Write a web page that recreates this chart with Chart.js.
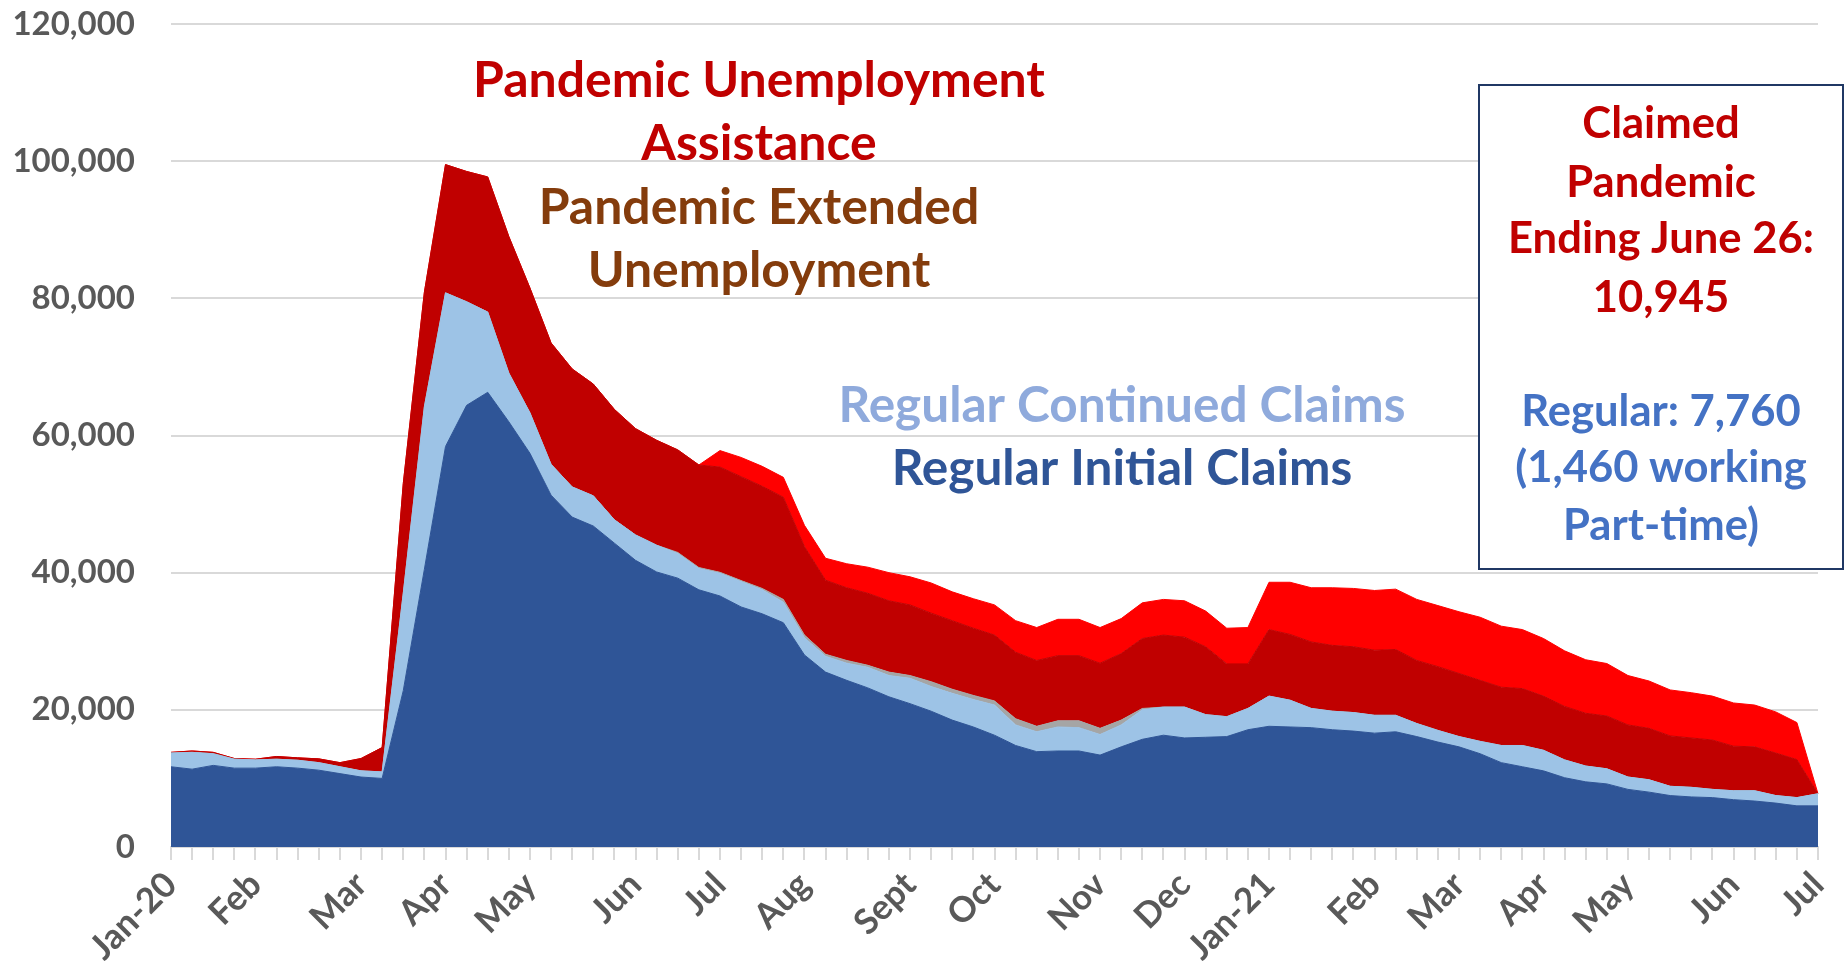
<!DOCTYPE html>
<html>
<head>
<meta charset="utf-8">
<script src="https://cdn.jsdelivr.net/npm/chart.js@4.4.0/dist/chart.umd.min.js"></script>
<style>
  body { margin: 0; background: #fff; }
  canvas { display: block; }
</style>
</head>
<body>
<canvas id="claims-chart" width="1845" height="967"></canvas>
<script>
// weekly claims, week ending Jan 4 2020 .. Jul 3 2021
const monthNames = ["Jan-20", "Feb", "Mar", "Apr", "May", "Jun", "Jul", "Aug", "Sept", "Oct", "Nov", "Dec",
  "Jan-21", "Feb", "Mar", "Apr", "May", "Jun", "Jul"];
const monthWeeks = [0, 4, 9, 13, 17, 22, 26, 30, 35, 39, 44, 48, 52, 57, 61, 65, 69, 74, 78];
const weekCount = 79;

const initialClaims = [11700, 11350, 11900, 11500, 11500, 11700, 11500, 11200, 10700, 10200, 10000,
  22800, 40500, 58400, 64400, 66300, 62000, 57400, 51300, 48100, 46800,
  44300, 41800, 40100, 39200, 37500, 36600, 35000, 34000, 32700, 28000,
  25500, 24300, 23200, 21900, 20900, 19800, 18500, 17500, 16300, 14800,
  13900, 14000, 14000, 13400, 14600, 15700, 16300, 15900, 16000, 16100,
  17100, 17600, 17500, 17400, 17100, 16900, 16600, 16800, 16100, 15300,
  14600, 13600, 12300, 11700, 11100, 10100, 9500, 9200, 8400, 8000,
  7500, 7300, 7200, 6900, 6700, 6400, 6000, 6000];

const continuedClaims = [2000, 2450, 1700, 1300, 1200, 1100, 1150, 1100, 1000, 900, 950,
  14200, 23700, 22400, 15100, 11700, 7100, 5900, 4500, 4400, 4400,
  3400, 3700, 3900, 3600, 3100, 3300, 3700, 3500, 3000, 2500,
  2300, 2500, 3000, 3100, 3700, 3600, 3900, 4000, 4400, 3000,
  2900, 3500, 3400, 3000, 3200, 4300, 4100, 4500, 3300, 2900,
  3100, 4400, 3900, 2800, 2700, 2700, 2600, 2400, 1900, 1700,
  1500, 1800, 2500, 3100, 3000, 2600, 2300, 2200, 1800, 1800,
  1350, 1400, 1200, 1300, 1500, 1100, 1200, 1760];

const extendedBenefits = [0, 0, 0, 0, 0, 0, 0, 0, 0, 0, 0,
  0, 0, 0, 0, 0, 0, 0, 0, 0, 0,
  0, 0, 0, 150, 150, 150, 150, 200, 400, 400,
  300, 400, 300, 500, 400, 700, 600, 600, 600, 900,
  800, 900, 1000, 900, 700, 200, 0, 0, 0, 0,
  0, 0, 0, 0, 0, 0, 0, 0, 0, 0,
  0, 0, 0, 0, 0, 0, 0, 0, 0, 0,
  0, 0, 0, 0, 0, 0, 0, 0];

const puaClaims = [100, 200, 200, 100, 100, 400, 350, 550, 600, 1800, 3550,
  16000, 16700, 18700, 19000, 19700, 19900, 18200, 17700, 17200, 16300,
  16100, 15500, 15300, 14950, 14950, 15350, 15150, 14900, 14900, 12900,
  10800, 10600, 10500, 10400, 10300, 10000, 10000, 9800, 9600, 9700,
  9600, 9500, 9500, 9500, 9700, 10200, 10500, 10200, 9900, 7700,
  6500, 9700, 9600, 9700, 9600, 9600, 9500, 9600, 9200, 9300,
  9200, 8900, 8500, 8300, 7900, 7800, 7700, 7700, 7600, 7500,
  7350, 7200, 7200, 6500, 6400, 6200, 5545, 0];

const peucClaims = [0, 0, 0, 0, 0, 0, 0, 0, 0, 0, 0,
  0, 0, 0, 0, 0, 0, 0, 0, 0, 0,
  0, 0, 0, 0, 0, 2400, 2800, 2900, 2900, 3100,
  3200, 3500, 3800, 4100, 4100, 4400, 4200, 4300, 4400, 4600,
  4800, 5300, 5300, 5200, 5100, 5200, 5200, 5300, 5200, 5200,
  5300, 6900, 7600, 7900, 8400, 8500, 8700, 8800, 8900, 8900,
  9000, 9200, 8900, 8600, 8400, 8100, 7800, 7650, 7200, 6900,
  6700, 6600, 6400, 6300, 6100, 6000, 5400, 0];

const labels = [];
for (let i = 0; i < weekCount; i++) labels.push("");
monthWeeks.forEach((w, k) => { labels[w] = monthNames[k]; });

const FONT = "Lato, 'Open Sans', sans-serif";

function area(label, data, color, fill) {
  return {
    label: label,
    data: data,
    backgroundColor: color,
    borderColor: color,
    borderWidth: 1,
    fill: fill,
    pointRadius: 0,
    tension: 0,
  };
}

// size a block of text so that one reference line gets the wanted width
function fitSize(ctx, text, width) {
  ctx.font = "bold 100px " + FONT;
  return 100 * width / ctx.measureText(text).width;
}

const notes = {
  id: "notes",
  afterDraw(chart) {
    const ctx = chart.ctx;
    ctx.save();
    ctx.textAlign = "center";
    ctx.textBaseline = "alphabetic";

    const big = fitSize(ctx, "Pandemic Unemployment", 572);
    ctx.font = "bold " + big + "px " + FONT;
    ctx.fillStyle = "#C00000";
    ctx.fillText("Pandemic Unemployment", 759, 97);
    ctx.fillText("Assistance", 759, 160);
    ctx.fillStyle = "#843C0C";
    ctx.fillText("Pandemic Extended", 759, 224);
    ctx.fillText("Unemployment", 759, 287);

    const mid = fitSize(ctx, "Regular Continued Claims", 567);
    ctx.font = "bold " + mid + "px " + FONT;
    ctx.fillStyle = "#8FAADC";
    ctx.fillText("Regular Continued Claims", 1122, 422);
    ctx.fillStyle = "#2F5597";
    ctx.fillText("Regular Initial Claims", 1122, 485);

    // text box
    ctx.fillStyle = "#fff";
    ctx.fillRect(1479, 85, 364, 484);
    ctx.strokeStyle = "#203864";
    ctx.lineWidth = 2;
    ctx.strokeRect(1479, 85, 364, 484);

    const box = fitSize(ctx, "Ending June 26:", 306);
    ctx.font = "bold " + box + "px " + FONT;
    ctx.fillStyle = "#C00000";
    ctx.fillText("Claimed", 1661, 138);
    ctx.fillText("Pandemic", 1661, 197);
    ctx.fillText("Ending June 26:", 1661, 253);
    ctx.fillText("10,945", 1661, 312);
    ctx.fillStyle = "#4472C4";
    ctx.fillText("Regular: 7,760", 1661, 426);
    ctx.fillText("(1,460 working", 1661, 482);
    ctx.fillText("Part-time)", 1661, 540);
    ctx.restore();
  },
};

new Chart(document.getElementById("claims-chart"), {
  type: "line",
  data: {
    labels: labels,
    datasets: [
      area("Regular Initial Claims", initialClaims, "#2F5597", "origin"),
      area("Regular Continued Claims", continuedClaims, "#9DC3E6", "-1"),
      area("Extended Benefits", extendedBenefits, "#A5A5A5", "-1"),
      area("Pandemic Unemployment Assistance", puaClaims, "#C00000", "-1"),
      area("Pandemic Extended Unemployment", peucClaims, "#FF0000", "-1"),
    ],
  },
  options: {
    responsive: false,
    animation: false,
    layout: { padding: { left: 0, right: 27, top: 24, bottom: 0 } },
    plugins: {
      legend: { display: false },
      tooltip: { enabled: false },
    },
    scales: {
      x: {
        grid: { display: true, drawOnChartArea: false, drawTicks: true, tickLength: 13, color: "#D9D9D9", lineWidth: 2 },
        border: { display: true, color: "#D9D9D9", width: 2 },
        ticks: {
          autoSkip: false,
          maxRotation: 45,
          minRotation: 45,
          padding: 4,
          color: "#595959",
          font: { family: FONT, size: 35, weight: "bold" },
        },
        afterFit: (scale) => {
          scale.height = 120;
          scale.paddingLeft = 0;
          scale.paddingRight = 0;
        },
      },
      y: {
        stacked: true,
        min: 0,
        max: 120000,
        grid: { color: "#D9D9D9", lineWidth: 2, drawTicks: false },
        border: { display: false },
        ticks: {
          stepSize: 20000,
          padding: 36,
          color: "#595959",
          font: { family: FONT, size: 33, weight: "bold" },
          callback: (v) => v.toLocaleString("en-US"),
        },
        afterFit: (scale) => {
          scale.width = 171;
          scale.paddingTop = 0;
          scale.paddingBottom = 0;
        },
      },
    },
  },
  plugins: [notes],
});
</script>
</body>
</html>
